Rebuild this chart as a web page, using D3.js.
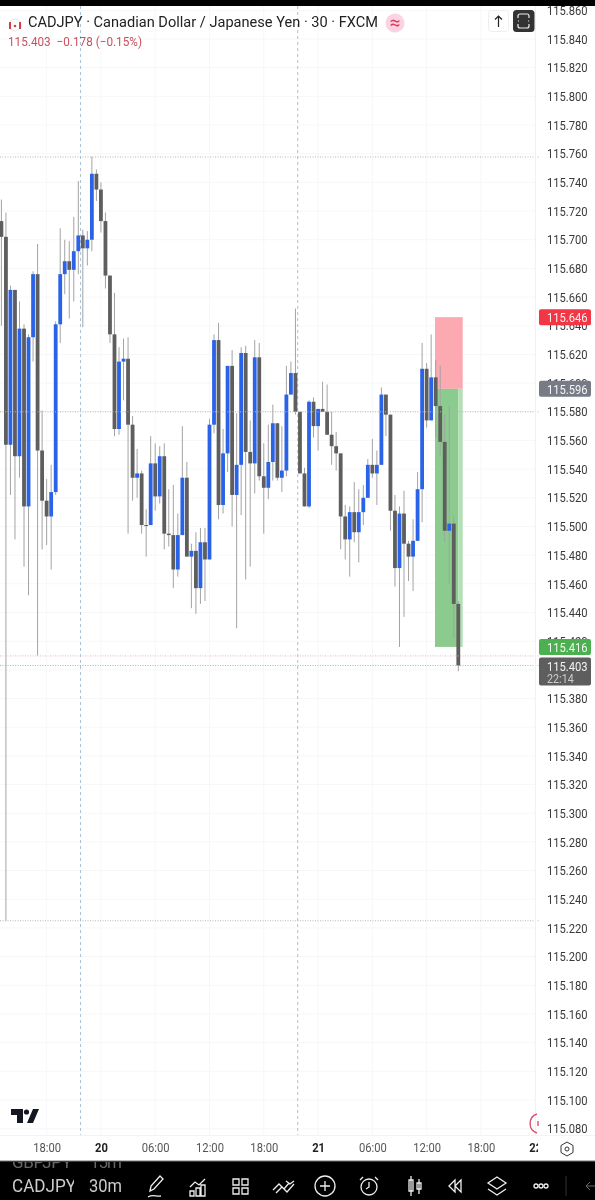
<!DOCTYPE html>
<html><head><meta charset="utf-8">
<style>html,body{margin:0;padding:0;background:#fff}svg{display:block;filter:blur(0.3px)}text{font-family:Roboto,sans-serif}</style>
<script src="https://cdn.jsdelivr.net/npm/d3@7"></script>
</head><body><svg id="c" width="595" height="1200"></svg>
<script>
const opens=[115.713,115.702,115.557,115.665,115.549,115.638,115.514,115.632,115.676,115.553,115.518,115.507,115.524,115.641,115.676,115.685,115.679,115.692,115.703,115.694,115.700,115.746,115.735,115.713,115.675,115.634,115.568,115.615,115.617,115.571,115.534,115.537,115.501,115.501,115.544,115.521,115.549,115.495,115.494,115.470,115.494,115.534,115.479,115.483,115.457,115.489,115.477,115.571,115.630,115.515,115.551,115.612,115.522,115.543,115.621,115.552,115.544,115.618,115.535,115.527,115.545,115.572,115.534,115.539,115.592,115.607,115.580,115.537,115.514,115.587,115.570,115.582,115.580,115.564,115.556,115.551,115.507,115.491,115.510,115.496,115.510,115.520,115.543,115.537,115.543,115.592,115.578,115.511,115.471,115.509,115.488,115.479,115.490,115.526,115.610,115.574,115.604,115.584,115.559,115.497,115.502,115.446];
const closes=[115.702,115.557,115.665,115.549,115.638,115.514,115.632,115.676,115.553,115.518,115.507,115.524,115.641,115.676,115.685,115.679,115.692,115.703,115.694,115.700,115.746,115.735,115.713,115.675,115.634,115.568,115.615,115.617,115.571,115.534,115.537,115.501,115.501,115.544,115.521,115.549,115.495,115.494,115.470,115.494,115.534,115.479,115.483,115.457,115.489,115.477,115.571,115.630,115.515,115.551,115.612,115.522,115.543,115.621,115.552,115.544,115.618,115.535,115.527,115.545,115.572,115.534,115.539,115.592,115.607,115.580,115.537,115.514,115.587,115.570,115.582,115.580,115.564,115.556,115.551,115.507,115.491,115.510,115.496,115.510,115.520,115.543,115.537,115.543,115.592,115.578,115.511,115.471,115.509,115.488,115.479,115.490,115.526,115.610,115.574,115.604,115.584,115.559,115.497,115.502,115.446,115.403];
const highs=[115.728,115.719,115.668,115.665,115.657,115.641,115.634,115.678,115.697,115.581,115.533,115.543,115.643,115.708,115.700,115.699,115.716,115.741,115.707,115.706,115.758,115.749,115.740,115.719,115.675,115.663,115.625,115.631,115.632,115.577,115.554,115.539,115.512,115.563,115.558,115.556,115.558,115.526,115.529,115.509,115.570,115.545,115.488,115.496,115.499,115.499,115.575,115.634,115.642,115.568,115.612,115.623,115.579,115.625,115.626,115.574,115.630,115.628,115.558,115.571,115.585,115.572,115.570,115.612,115.615,115.652,115.580,115.541,115.588,115.590,115.582,115.601,115.599,115.580,115.566,115.551,115.515,115.514,115.531,115.526,115.529,115.547,115.561,115.553,115.597,115.592,115.578,115.522,115.514,115.525,115.490,115.505,115.538,115.628,115.614,115.634,115.616,115.612,115.578,115.584,115.507,115.448];
const lows=[115.640,115.225,115.522,115.491,115.534,115.472,115.452,115.615,115.410,115.484,115.487,115.470,115.522,115.628,115.662,115.645,115.657,115.676,115.639,115.682,115.692,115.727,115.705,115.666,115.628,115.563,115.564,115.588,115.495,115.518,115.520,115.495,115.479,115.501,115.511,115.516,115.484,115.486,115.457,115.465,115.494,115.479,115.443,115.439,115.446,115.448,115.477,115.565,115.505,115.509,115.538,115.500,115.429,115.508,115.463,115.472,115.523,115.532,115.495,115.519,115.532,115.532,115.524,115.535,115.592,115.578,115.537,115.514,115.513,115.562,115.553,115.580,115.564,115.543,115.539,115.484,115.477,115.465,115.489,115.475,115.501,115.520,115.534,115.515,115.543,115.563,115.497,115.458,115.416,115.437,115.462,115.455,115.490,115.503,115.569,115.574,115.562,115.549,115.489,115.460,115.422,115.399];
const priceTicks=d3.range(0,40).map(i=>+(115.08+i*0.02).toFixed(3));
const timeTicks=[10,22,34,46,58,70,82,94,106,118];
const timeLabels=["18:00","20","06:00","12:00","18:00","21","06:00","12:00","18:00","22"];
const sessionBreaks=[17.5,65.5];
const levels=[115.7577,115.58,115.225,115.403];
const levelColors=["#b5b5b5","#b5b5b5","#b5b5b5","#a8b4b4"];
const stopPrice=115.646,entryPrice=115.596,targetPrice=115.416,lastPrice=115.403;

const x=d3.scaleLinear().domain([0,101]).range([1.4,458.3]);
const y=d3.scaleLinear().domain([115.84,115.10]).range([39,1100]);
const svg=d3.select("#c");
const squeeze=(sel,f=0.86)=>sel.each(function(){d3.select(this).attr("textLength",this.getComputedTextLength()*f).attr("lengthAdjust","spacingAndGlyphs")});

svg.append("defs").append("clipPath").attr("id","pane").append("rect").attr("x",0).attr("y",6).attr("width",535).attr("height",1129);
svg.append("defs").append("clipPath").attr("id","timeClip").append("rect").attr("x",0).attr("y",1136).attr("width",538).attr("height",25);
const pane=svg.append("g").attr("clip-path","url(#pane)");

// grid
pane.selectAll(".gh").data(priceTicks).join("line").attr("x1",0).attr("x2",535).attr("y1",d=>y(d)).attr("y2",d=>y(d)).attr("stroke","#f6f7f8");
pane.selectAll(".gv").data(timeTicks).join("line").attr("x1",d=>x(d)).attr("x2",d=>x(d)).attr("y1",6).attr("y2",1135).attr("stroke","#f6f7f8");
pane.selectAll(".sb").data(sessionBreaks).join("line").attr("x1",d=>x(d)).attr("x2",d=>x(d)).attr("y1",6).attr("y2",1135).attr("stroke","#a9c0d2").attr("stroke-dasharray","3,3");

// levels
svg.selectAll(".lv").data(levels).join("line").attr("x1",0).attr("x2",539).attr("y1",d=>y(d)).attr("y2",d=>y(d)).attr("stroke",(d,i)=>levelColors[i]).attr("stroke-dasharray","1,1.5");
svg.append("line").attr("x1",0).attr("x2",539).attr("y1",y(targetPrice)+9).attr("y2",y(targetPrice)+9).attr("stroke","#e3b6bb").attr("stroke-dasharray","1,1.5");

// position tool
const toolLeft=x(96)-.7,toolRight=x(101)+4.4;
pane.append("rect").attr("x",toolLeft).attr("width",toolRight-toolLeft).attr("y",y(stopPrice)).attr("height",y(entryPrice)-y(stopPrice)).attr("fill","#fca9b1");
pane.append("rect").attr("x",toolLeft).attr("width",x(101)-toolLeft).attr("y",y(entryPrice)).attr("height",y(targetPrice)-y(entryPrice)).attr("fill","#8bcb8e");
pane.append("rect").attr("x",x(101)).attr("width",4.4).attr("y",y(entryPrice)).attr("height",y(targetPrice)-y(entryPrice)).attr("fill","#b3dfb5");

// candles
const idx=d3.range(opens.length);
pane.selectAll(".w").data(idx).join("line").attr("x1",i=>x(i)).attr("x2",i=>x(i)).attr("y1",i=>y(highs[i])).attr("y2",i=>y(lows[i])).attr("stroke","#a3a3a3").attr("stroke-width",1);
pane.selectAll(".b").data(idx).join("rect").attr("x",i=>x(i)-1.9).attr("width",3.8)
 .attr("y",i=>y(Math.max(opens[i],closes[i]))).attr("height",i=>Math.max(1,Math.abs(y(opens[i])-y(closes[i]))))
 .attr("fill",i=>closes[i]>opens[i]?"#2a62e8":"#5e5e5e");

// price axis
const pa=svg.append("g").attr("transform","translate(542,0)").call(d3.axisRight(y).tickValues(priceTicks).tickSize(0).tickPadding(5).tickFormat(d3.format(".3f")));
pa.select(".domain").remove();
pa.selectAll("text").attr("font-size",13).attr("fill","#3a3a3a").style("font-family","Roboto").call(squeeze);
svg.append("line").attr("x1",535.5).attr("x2",535.5).attr("y1",6).attr("y2",1135).attr("stroke","#f0f1f2");
svg.append("rect").attr("x",0).attr("y",0).attr("width",595).attr("height",6).attr("fill","#000");

// time axis
svg.append("line").attr("x1",0).attr("x2",595).attr("y1",1135.5).attr("y2",1135.5).attr("stroke","#f2f3f4");
const ta=svg.append("g").attr("clip-path","url(#timeClip)").append("g").attr("transform","translate(0,1135)").call(d3.axisBottom(x).tickValues(timeTicks).tickSize(0).tickPadding(8).tickFormat((d,i)=>timeLabels[i]));
ta.select(".domain").remove();
ta.selectAll("text").attr("font-size",13).style("font-family","Roboto").attr("font-weight",(d,i)=>timeLabels[i].length==2?700:400).attr("fill",(d,i)=>timeLabels[i].length==2?"#222":"#555").call(squeeze);

// price labels
function tag(p,txt,col,h,sub){
 const top=y(p)-8;
 svg.append("rect").attr("x",539).attr("y",top).attr("width",52).attr("height",h).attr("rx",2).attr("fill",col);
 svg.append("text").attr("x",547).attr("y",top+13).attr("font-size",13).attr("fill","#fff").attr("opacity",.92).text(txt).call(squeeze);
 if(sub) svg.append("text").attr("x",547).attr("y",top+25).attr("font-size",12.5).attr("fill","#ccc").text(sub).call(squeeze);
}
tag(stopPrice,"115.646","#f23645",16);
tag(entryPrice,"115.596","#787b86",16);
tag(targetPrice,"115.416","#4caf50",16);
tag(lastPrice,"115.403","#5e5e5e",28,"22:14");

// header
svg.append("text").attr("x",28).attr("y",27).attr("font-size",15.5).attr("fill","#222").text("CADJPY · Canadian Dollar / Japanese Yen · 30 · FXCM").attr("textLength",350).attr("lengthAdjust","spacingAndGlyphs");
svg.append("text").attr("x",8).attr("y",46).attr("font-size",13).attr("fill","#c9515f").text("115.403\u00a0\u00a0−0.178 (−0.15%)").attr("textLength",134).attr("lengthAdjust","spacingAndGlyphs");
svg.append("circle").attr("cx",15).attr("cy",25).attr("r",6).attr("fill","#fff").attr("stroke","#e4e4e4");
svg.append("path").attr("d","M10 22v7M20 22v7").attr("stroke","#d0404a").attr("stroke-width",2);
svg.append("circle").attr("cx",15).attr("cy",26).attr("r",1.3).attr("fill","#d0404a");
svg.append("circle").attr("cx",395).attr("cy",23).attr("r",9.5).attr("fill","#fcd3e0");
svg.append("text").attr("x",395).attr("y",29).attr("text-anchor","middle").attr("font-size",19).attr("fill","#e0395f").text("≈");
svg.append("rect").attr("x",488.5).attr("y",10.5).attr("width",20).attr("height",21).attr("rx",3).attr("fill","#fff").attr("stroke","#eee");
svg.append("path").attr("d","M498.5 27V16M495 19.5l3.5-3.5 3.5 3.5").attr("fill","none").attr("stroke","#222").attr("stroke-width",1.2);
svg.append("rect").attr("x",513).attr("y",10).attr("width",21.5).attr("height",22).attr("rx",3.5).attr("fill","#333");
svg.append("path").attr("d","M518 18v-2a2 2 0 0 1 2-2h7a2 2 0 0 1 2 2v2M518 24v2a2 2 0 0 0 2 2h7a2 2 0 0 0 2-2v-2M518 21h1M528 21h1").attr("fill","none").attr("stroke","#eee").attr("stroke-width",1.2);

// logo
svg.append("path").attr("d","M11 1109h12v14h-6v-8h-6zM33 1109h6l-6 14h-6z").attr("fill","#131722");
svg.append("circle").attr("cx",26.5).attr("cy",1112).attr("r",2.6).attr("fill","#131722");
svg.append("path").attr("d","M537 1114a10 10 0 0 0 0 19").attr("fill","none").attr("stroke","#d8516f").attr("stroke-width",1.4);
svg.append("path").attr("d","M538 1121v5").attr("stroke","#d8516f").attr("stroke-width",1.4);
svg.append("path").attr("d","M567 1142l6 3.5v7l-6 3.5-6-3.5v-7z").attr("fill","none").attr("stroke","#333");
svg.append("circle").attr("cx",567).attr("cy",1149).attr("r",2).attr("fill","none").attr("stroke","#333");

// toolbar
svg.append("rect").attr("x",0).attr("y",1161).attr("width",595).attr("height",39).attr("fill","#000");
svg.append("line").attr("x1",0).attr("x2",595).attr("y1",1161).attr("y2",1161).attr("stroke","#777");
svg.append("defs").append("clipPath").attr("id","bar").append("rect").attr("x",0).attr("y",1162).attr("width",595).attr("height",38);
const bar=svg.append("g").attr("clip-path","url(#bar)");
bar.append("text").attr("x",12).attr("y",1168).attr("font-size",17).attr("fill","#666").text("GBPJPY").attr("textLength",60);
bar.append("text").attr("x",90).attr("y",1168).attr("font-size",17).attr("fill","#666").text("15m").attr("textLength",32);
svg.append("defs").append("clipPath").attr("id","sym").append("rect").attr("x",0).attr("y",1162).attr("width",74).attr("height",38);
svg.append("text").attr("clip-path","url(#sym)").attr("x",12).attr("y",1192).attr("font-size",17.5).attr("fill","#ccc").text("CADJPY").attr("textLength",64).attr("lengthAdjust","spacingAndGlyphs");
svg.append("text").attr("x",89).attr("y",1192).attr("font-size",17.5).attr("fill","#ccc").text("30m").attr("textLength",33).attr("lengthAdjust","spacingAndGlyphs");
const ic=svg.append("g").attr("fill","none").attr("stroke","#eee").attr("stroke-width",1.3);
ic.append("path").attr("d","M150 1191l1-5 9-10 3 3-9 10zM148 1197c5-3 8 0 13-1");
ic.append("path").attr("d","M190 1187l5-5 4 3 6-6M190 1196v-5h4v5zM196 1196v-8h4v8zM201 1196v-11h4v11z");
ic.append("path").attr("d","M233 1179h6v6h-6zM242 1179h6v6h-6zM233 1188h6v6h-6zM242 1188h6v6h-6z");
ic.append("path").attr("d","M273 1190l6-6 5 5 5-6M276 1193l6-6 5 5 7-8M286 1181l4 3 4-3");
ic.append("circle").attr("cx",325).attr("cy",1186).attr("r",10);ic.append("path").attr("d","M320 1186h10M325 1181v10");
ic.append("circle").attr("cx",369).attr("cy",1187).attr("r",8);ic.append("path").attr("d","M369 1182v5l-3 2M360 1180l3-3M378 1180l-3-3");
ic.append("path").attr("d","M409 1180h4v11h-4zM411 1176v20M417 1183h4v6h-4zM419 1179v15");
ic.append("path").attr("d","M455 1180l-6 6 6 6zM461 1180l-6 6 6 6z");
ic.append("path").attr("d","M497 1177l9 6-9 6-9-6zM488 1189l9 6 9-6");
[536,541,546].forEach(c=>ic.append("circle").attr("cx",c).attr("cy",1186).attr("r",2));
svg.append("line").attr("x1",566).attr("x2",566).attr("y1",1176).attr("y2",1196).attr("stroke","#333");
svg.append("path").attr("d","M595 1186h-9M590 1182l-4 4 4 4").attr("fill","none").attr("stroke","#666");
</script></body></html>
